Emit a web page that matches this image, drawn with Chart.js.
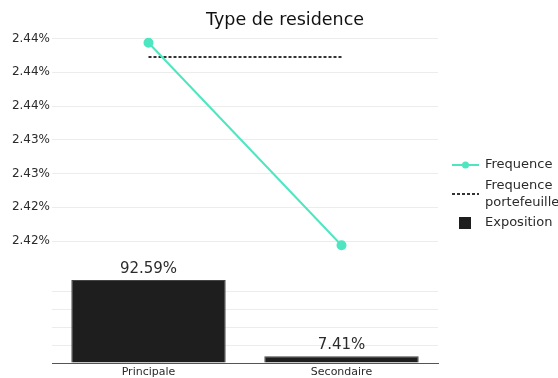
<!DOCTYPE html>
<html>
<head>
<meta charset="utf-8">
<script src="https://cdn.jsdelivr.net/npm/chart.js@4/dist/chart.umd.min.js"></script>
<style>
  html, body { margin: 0; padding: 0; background: #fff; }
  #wrap { width: 558px; height: 378px; position: relative; }
</style>
</head>
<body>
<div id="wrap"><canvas id="c" width="558" height="378"></canvas></div>
<script>
// Categories and values (percent)
const categories = ['Principale', 'Secondaire'];
const frequence = [2.4435, 2.4195];
const frequencePortefeuille = 2.4418;
const exposition = [92.59, 7.41];

// Tick values for the frequency axis and grid steps for the exposure axis
const freqTicks = [2.420, 2.424, 2.428, 2.432, 2.436, 2.440, 2.444];
const expoGridTicks = [0, 20, 40, 60, 80];

const FONT = 'DejaVu Sans';
const TEXT = '#2b2b2b';
const LINE_COLOR = '#4ee6c1';
const BAR_COLOR = '#1e1e1e';
const GRID = '#ececec';

const extras = {
  id: 'extras',
  afterDatasetsDraw(chart) {
    const ctx = chart.ctx;
    // value labels above the bars
    const meta = chart.getDatasetMeta(2);
    ctx.save();
    ctx.font = '15px "' + FONT + '"';
    ctx.fillStyle = TEXT;
    ctx.textAlign = 'center';
    ctx.textBaseline = 'middle';
    meta.data.forEach((el, i) => {
      ctx.fillText(exposition[i].toFixed(2) + '%', el.x, el.y - 11);
    });
    ctx.restore();
  },
  afterDraw(chart) {
    const ctx = chart.ctx;
    ctx.save();
    // title
    ctx.font = '17.5px "' + FONT + '"';
    ctx.fillStyle = '#111';
    ctx.textAlign = 'center';
    ctx.textBaseline = 'middle';
    ctx.fillText('Type de residence', 285, 20);

    // legend
    ctx.font = '13px "' + FONT + '"';
    ctx.textAlign = 'left';
    ctx.fillStyle = TEXT;
    const lx = 452, tx = 485;
    // Frequence
    ctx.strokeStyle = LINE_COLOR;
    ctx.lineWidth = 2;
    ctx.beginPath(); ctx.moveTo(lx, 165); ctx.lineTo(lx + 27, 165); ctx.stroke();
    ctx.fillStyle = LINE_COLOR;
    ctx.beginPath(); ctx.arc(lx + 13.5, 165, 3.5, 0, Math.PI * 2); ctx.fill();
    ctx.fillStyle = TEXT;
    ctx.fillText('Frequence', tx, 165);
    // Frequence portefeuille
    ctx.strokeStyle = '#333';
    ctx.setLineDash([3, 2]);
    ctx.beginPath(); ctx.moveTo(lx, 194); ctx.lineTo(lx + 27, 194); ctx.stroke();
    ctx.setLineDash([]);
    ctx.fillText('Frequence', tx, 186);
    ctx.fillText('portefeuille', tx, 203);
    // Exposition
    ctx.fillStyle = BAR_COLOR;
    ctx.fillRect(459, 217, 12, 12);
    ctx.fillStyle = TEXT;
    ctx.fillText('Exposition', tx, 223);
    ctx.restore();
  }
};

new Chart(document.getElementById('c'), {
  type: 'bar',
  data: {
    labels: categories,
    datasets: [
      {
        type: 'line',
        label: 'Frequence',
        data: frequence,
        yAxisID: 'y',
        borderColor: LINE_COLOR,
        backgroundColor: LINE_COLOR,
        borderWidth: 2,
        pointRadius: 4,
        pointHoverRadius: 4,
        tension: 0
      },
      {
        type: 'line',
        label: 'Frequence portefeuille',
        data: categories.map(() => frequencePortefeuille),
        yAxisID: 'y',
        borderColor: '#333',
        borderWidth: 2,
        borderDash: [3, 2],
        pointRadius: 0,
        tension: 0
      },
      {
        type: 'bar',
        label: 'Exposition',
        data: exposition,
        yAxisID: 'y2',
        backgroundColor: BAR_COLOR,
        borderColor: '#444',
        borderWidth: 1,
        barPercentage: 0.8,
        categoryPercentage: 1
      }
    ]
  },
  options: {
    responsive: false,
    animation: false,
    devicePixelRatio: 1,
    layout: { padding: { top: 30, right: 120, bottom: 0, left: 0 } },
    plugins: {
      legend: { display: false },
      title: { display: false },
      tooltip: { enabled: false }
    },
    scales: {
      x: {
        offset: true,
        grid: { display: false, drawTicks: false },
        border: { display: true, color: '#555', width: 1 },
        ticks: { font: { family: FONT, size: 11 }, color: TEXT, padding: 3, maxRotation: 0 },
        afterFit(s) { s.height = 15; }
      },
      y: {
        position: 'left',
        min: 2.405541,
        max: 2.4450074,
        grid: { color: GRID, drawTicks: false },
        border: { display: false },
        ticks: {
          font: { family: FONT, size: 12 },
          color: TEXT,
          padding: 2,
          autoSkip: false,
          callback: (v) => Number(v).toFixed(2) + '%'
        },
        afterBuildTicks(s) { s.ticks = freqTicks.map(v => ({ value: v })); },
        afterFit(s) { s.width = 52; }
      },
      y2: {
        position: 'left',
        min: 0,
        max: 371.5,
        grid: { color: GRID, drawTicks: false },
        border: { display: false },
        ticks: { display: false },
        afterBuildTicks(s) { s.ticks = expoGridTicks.map(v => ({ value: v })); },
        afterFit(s) { s.width = 0; }
      }
    }
  },
  plugins: [extras]
});
</script>
</body>
</html>
